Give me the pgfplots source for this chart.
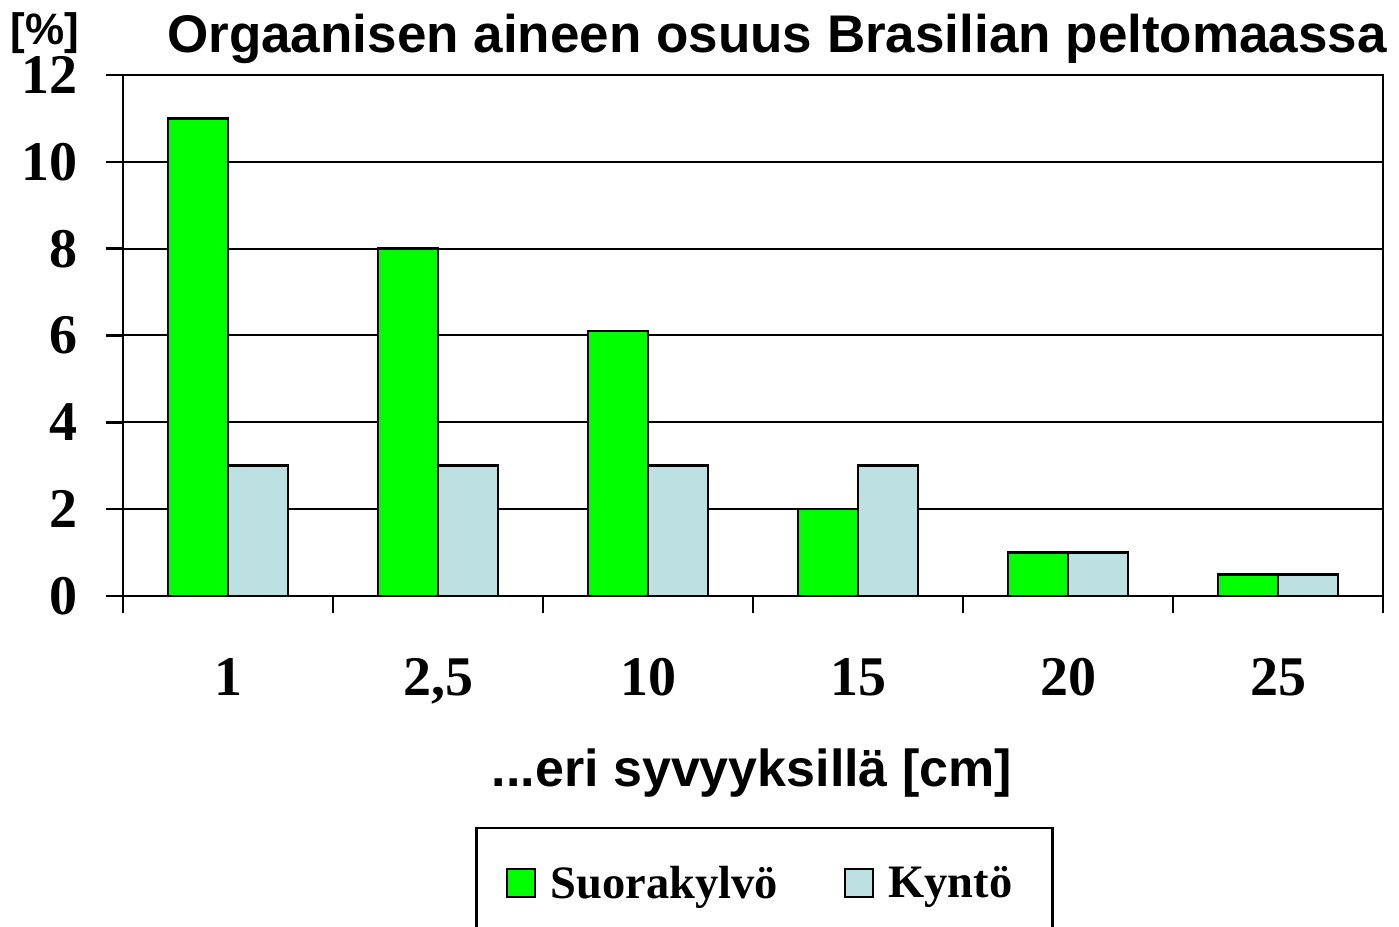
\documentclass[border=0pt]{standalone}
\usepackage{fontspec}
\setmainfont{Liberation Serif}
\newfontfamily\arial{Liberation Sans}
\usepackage{pgfplots}
\pgfplotsset{compat=1.18}
\definecolor{bargreen}{RGB}{0,255,0}
\definecolor{barblue}{RGB}{189,224,227}
\begin{document}
\begin{tikzpicture}
\begin{axis}[
 at={(123bp,331bp)}, anchor=south west,
 scale only axis, width=1260bp, height=521bp,
 xmin=-0.5, xmax=5.5, ymin=0, ymax=12,
 ybar=0pt, bar width=60bp,
 xtick={-0.5,0.5,...,5.5}, x tick label as interval,
 xticklabels={1,{2,5},10,15,20,25},
 ytick={0,2,...,12},
 ymajorgrids, grid style={black, line width=2bp},
 axis line style={line width=2.5bp},
 tick style={black, line width=2.5bp},
 major tick length=17bp, tick align=outside, tick pos=left,
 /pgf/number format/assume math mode=true,
 ticklabel style={font=\fontsize{56bp}{60bp}\selectfont\bfseries, inner sep=0pt},
 xticklabel style={yshift=-45bp},
 yticklabel style={xshift=-28bp},
 legend style={at={(axis description cs:0.509,-0.443)}, anchor=north,
   legend columns=2, draw=black, line width=2.5bp,
   font=\fontsize{46.5bp}{52bp}\selectfont\bfseries,
   cells={anchor=west}, nodes={inner sep=10bp},
   inner xsep=30bp, inner ysep=28bp,
   /tikz/every even column/.append style={column sep=56bp}},
 legend image code/.code={\draw[#1, line width=2bp] (0bp,-14bp) rectangle (28bp,14bp); \path (32bp,0bp);},
]
\addplot[fill=bargreen, draw=black, line width=2.5bp] coordinates {(0,11) (1,8) (2,6.1) (3,2) (4,1) (5,0.5)};
\addplot[fill=barblue, draw=black, line width=2.5bp] coordinates {(0,3) (1,3) (2,3) (3,3) (4,1) (5,0.5)};
\legend{Suorakylvö, Kyntö}
\end{axis}
\node[font={\arial\bfseries\fontsize{53bp}{58bp}\selectfont}] at (777bp,888bp) {Orgaanisen aineen osuus Brasilian peltomaassa};
\node[font={\arial\bfseries\fontsize{44bp}{50bp}\selectfont}] at (45bp,894bp) {[\%]};
\node[font={\arial\bfseries\fontsize{52bp}{58bp}\selectfont}] at (752bp,154bp) {...eri syvyyksillä [cm]};
\pgfresetboundingbox
\path[use as bounding box] (0,0) rectangle (1399bp,927bp);
\end{tikzpicture}
\end{document}
